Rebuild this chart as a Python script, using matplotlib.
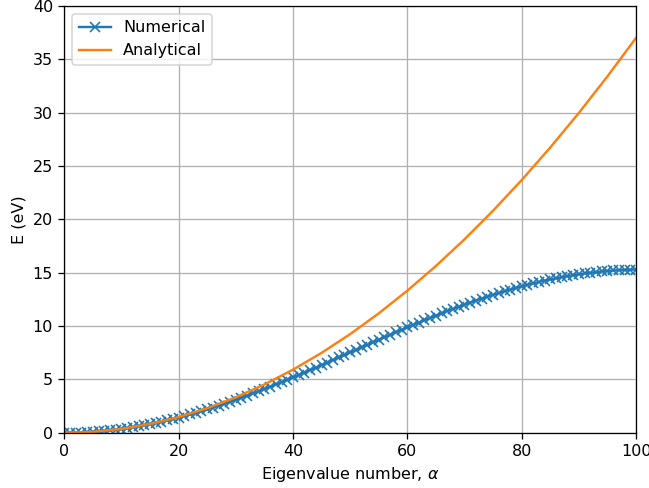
import matplotlib
matplotlib.use("Agg")
import matplotlib.pyplot as plt

alpha_num = list(range(0, 101))
E_num = [0.00, 0.00, 0.01, 0.03, 0.06, 0.09, 0.13, 0.18, 0.24, 0.30,
         0.37, 0.44, 0.53, 0.62, 0.71, 0.82, 0.93, 1.04, 1.17, 1.30,
         1.43, 1.57, 1.72, 1.88, 2.03, 2.20, 2.37, 2.54, 2.72, 2.91,
         3.10, 3.29, 3.49, 3.69, 3.89, 4.10, 4.32, 4.53, 4.75, 4.97,
         5.20, 5.42, 5.65, 5.88, 6.11, 6.35, 6.58, 6.82, 7.06, 7.29,
         7.53, 7.77, 8.01, 8.24, 8.48, 8.72, 8.95, 9.19, 9.42, 9.65,
         9.88, 10.10, 10.33, 10.55, 10.77, 10.98, 11.20, 11.41, 11.61, 11.81,
         12.01, 12.20, 12.39, 12.58, 12.76, 12.93, 13.10, 13.27, 13.42, 13.58,
         13.72, 13.87, 14.00, 14.13, 14.25, 14.37, 14.48, 14.59, 14.68, 14.77,
         14.86, 14.93, 15.00, 15.06, 15.12, 15.17, 15.21, 15.24, 15.27, 15.29,
         15.30]

alpha_an = [0, 5, 10, 15, 20, 25, 30, 35, 40, 45, 50,
            55, 60, 65, 70, 75, 80, 85, 90, 95, 100]
E_an = [0.0, 0.0925, 0.37, 0.8325, 1.48, 2.3125, 3.33, 4.5325, 5.92, 7.4925, 9.25,
        11.1925, 13.32, 15.6325, 18.13, 20.8125, 23.68, 26.7325, 29.97, 33.3925, 37.0]

DPI = 115
fig = plt.figure(figsize=(649 / DPI, 488 / DPI), dpi=DPI)
ax = fig.add_axes([0.099, 0.113, 0.881, 0.875])
ax.plot(alpha_num, E_num, marker='x', label='Numerical')
ax.plot(alpha_an, E_an, label='Analytical')
ax.set_xlim(0, 100)
ax.set_ylim(0, 40)
ax.grid(True)
ax.set_xlabel(r'Eigenvalue number, $\alpha$')
ax.set_ylabel('E (eV)')
ax.legend(loc='upper left')
fig.savefig('out.png', dpi=DPI)
